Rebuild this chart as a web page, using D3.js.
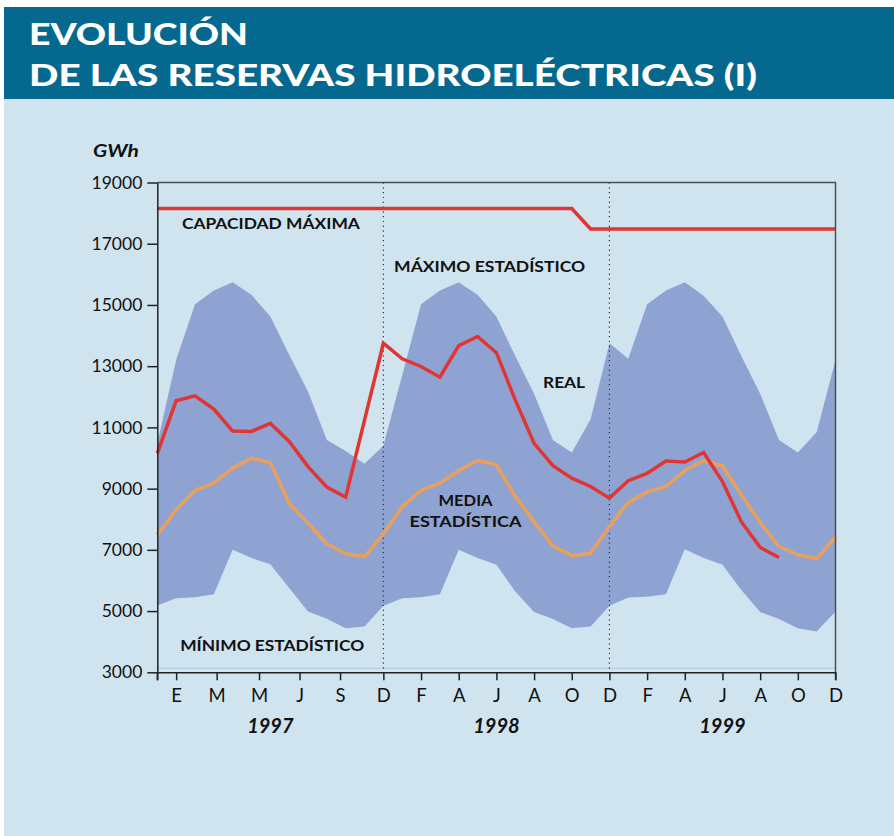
<!DOCTYPE html>
<html>
<head>
<meta charset="utf-8">
<script src="https://cdn.jsdelivr.net/npm/d3@7"></script>
<style>
  body { margin: 0; background: #fff; }
  svg { display: block; font-family: Lato, "Open Sans", sans-serif; }
</style>
</head>
<body>
<div id="chart"></div>
<script>
// months counted from December 1996 (index 0) to December 1999 (index 36)
const maxEstadistico = [
  10480, 13200, 15020, 15470, 15740, 15330, 14620, 13370, 12170, 10590, 10230, 9810,
  10400, 12700, 15020, 15470, 15740, 15330, 14620, 13330, 12100, 10590, 10180, 11270,
  13750, 13240, 15020, 15470, 15740, 15300, 14620, 13330, 12100, 10590, 10180, 10840,
  13200
];
const minEstadistico = [
  5180, 5420, 5450, 5550, 7000, 6730, 6530, 5750, 4990, 4750, 4440, 4500,
  5170, 5420, 5450, 5550, 7000, 6730, 6510, 5640, 4970, 4740, 4440, 4500,
  5170, 5440, 5470, 5550, 7020, 6730, 6510, 5690, 4970, 4740, 4440, 4330,
  4990
];
const mediaEstadistica = [
  7490, 8310, 8940, 9180, 9670, 9990, 9850, 8520, 7870, 7200, 6870, 6780,
  7520, 8410, 8940, 9180, 9590, 9920, 9780, 8740, 7920, 7130, 6810, 6890,
  7770, 8550, 8900, 9070, 9590, 9920, 9740, 8800, 7890, 7110, 6840, 6710,
  7420
];
const real = [
  10150, 11870, 12030, 11600, 10880, 10870, 11130, 10540, 9720, 9050, 8720, 11240,
  13750, 13240, 12990, 12640, 13670, 13970, 13440, 11900, 10480, 9750, 9340, 9070,
  8690, 9260, 9500, 9900, 9870, 10180, 9230, 7920, 7080, 6750
];
const capacidadMaxima = [
  18150, 18150, 18150, 18150, 18150, 18150, 18150, 18150, 18150, 18150, 18150, 18150,
  18150, 18150, 18150, 18150, 18150, 18150, 18150, 18150, 18150, 18150, 18150, 17480,
  17480, 17480, 17480, 17480, 17480, 17480, 17480, 17480, 17480, 17480, 17480, 17480,
  17480
];

const monthTicks = [0, 1, 3.15, 5.4, 7.55, 9.7, 12, 14, 16, 18, 20, 22, 24, 26, 28, 30, 32, 34, 36];
const monthLabels = ["", "E", "M", "M", "J", "S", "D", "F", "A", "J", "A", "O", "D", "F", "A", "J", "A", "O", "D"];
const years = ["1997", "1998", "1999"];
const yearCenters = [6, 18, 30];
const yearBreaks = [12, 24];
const yTicks = [3000, 5000, 7000, 9000, 11000, 13000, 15000, 17000, 19000];

const labels = [
  { text: "CAPACIDAD MÁXIMA", m: 6.03, v: 17470, w: 178 },
  { text: "MÁXIMO ESTADÍSTICO", m: 17.64, v: 16090, w: 191 },
  { text: "REAL", m: 21.59, v: 12280, w: 42 },
  { text: "MEDIA", m: 16.36, v: 8440, w: 54 },
  { text: "ESTADÍSTICA", m: 16.36, v: 7740, w: 112 },
  { text: "MÍNIMO ESTADÍSTICO", m: 6.1, v: 3680, w: 184 }
];

const width = 894, height = 836;
const colors = { bar: "#05688e", bg: "#d0e4ef", band: "#8fa3d3", red: "#e03533", orange: "#e9a05c" };

const svg = d3.select("#chart").append("svg")
  .attr("width", width)
  .attr("height", height);

// header + panel
svg.append("rect").attr("x", 4).attr("y", 7).attr("width", width - 4).attr("height", 92).attr("fill", colors.bar);
svg.append("rect").attr("x", 4).attr("y", 99).attr("width", width - 4).attr("height", height - 99).attr("fill", colors.bg);

const title = svg.append("g").attr("fill", "#fff").attr("font-weight", 900).attr("font-size", 30.5);
title.append("text").attr("x", 29).attr("y", 44.5)
  .attr("textLength", 219).attr("lengthAdjust", "spacingAndGlyphs").text("EVOLUCIÓN");
title.append("text").attr("x", 29).attr("y", 86)
  .attr("textLength", 728).attr("lengthAdjust", "spacingAndGlyphs").text("DE LAS RESERVAS HIDROELÉCTRICAS (I)");

const x = d3.scaleLinear().domain([0, 36]).range([157.3, 835.5]);
const y = d3.scaleLinear().domain([3000, 19000]).range([672.3, 182.5]);

// statistical band
const band = d3.area()
  .x((d, i) => x(i))
  .y0((d, i) => y(minEstadistico[i]))
  .y1(d => y(d));

svg.append("path")
  .datum(maxEstadistico)
  .attr("d", band)
  .attr("fill", colors.band);

// faint bottom edge of plot area
svg.append("line")
  .attr("x1", x(0)).attr("x2", x(36))
  .attr("y1", 668.3).attr("y2", 668.3)
  .attr("stroke", "#b3c5df").attr("stroke-width", 1);

// year separators
svg.selectAll(".sep")
  .data(yearBreaks)
  .join("line")
  .attr("class", "sep")
  .attr("x1", d => x(d)).attr("x2", d => x(d))
  .attr("y1", y(19000)).attr("y2", y(3000))
  .attr("stroke", "#333")
  .attr("stroke-width", 1.2)
  .attr("stroke-dasharray", "1.2,3.6");

const line = d3.line().x((d, i) => x(i)).y(d => y(d));

svg.append("path").datum(capacidadMaxima).attr("d", line)
  .attr("fill", "none").attr("stroke", colors.red).attr("stroke-width", 3.5);

svg.append("path").datum(mediaEstadistica).attr("d", line)
  .attr("fill", "none").attr("stroke", colors.orange).attr("stroke-width", 3.5)
  .attr("stroke-linejoin", "round");

svg.append("path").datum(real).attr("d", line)
  .attr("fill", "none").attr("stroke", colors.red).attr("stroke-width", 3.5)
  .attr("stroke-linejoin", "miter");

// frame: top and right
svg.append("path")
  .attr("d", `M${x(0)},${y(19000)}H${x(36)}V${y(3000) + 8}`)
  .attr("fill", "none").attr("stroke", "#4a4f55").attr("stroke-width", 1.5);

// axes
const yAxis = svg.append("g")
  .attr("transform", `translate(${x(0)},0)`)
  .call(d3.axisLeft(y).tickValues(yTicks).tickFormat(d3.format("d")).tickSize(10).tickSizeOuter(0).tickPadding(5));

const xAxis = svg.append("g")
  .attr("transform", `translate(0,${y(3000)})`)
  .call(d3.axisBottom(x).tickValues(monthTicks).tickFormat((d, i) => monthLabels[i]).tickSize(8).tickSizeOuter(0).tickPadding(9));

[yAxis, xAxis].forEach(g => {
  g.select(".domain").attr("stroke", "#222").attr("stroke-width", 1.5);
  g.selectAll(".tick line").attr("stroke", "#222").attr("stroke-width", 1.5);
  g.selectAll("text").attr("fill", "#111").attr("font-family", "Lato, sans-serif");
});
yAxis.selectAll("text").attr("font-size", 17.5);
xAxis.selectAll("text").attr("font-size", 18.5);

// left axis continues down to the first month tick
svg.append("line")
  .attr("x1", x(0)).attr("x2", x(0))
  .attr("y1", y(3000)).attr("y2", y(3000) + 8)
  .attr("stroke", "#222").attr("stroke-width", 1.5);

svg.selectAll(".year")
  .data(years)
  .join("text")
  .attr("class", "year")
  .attr("x", (d, i) => x(yearCenters[i]))
  .attr("y", 733)
  .attr("text-anchor", "middle")
  .attr("font-size", 20)
  .attr("font-weight", 700)
  .attr("font-style", "italic")
  .attr("fill", "#111")
  .text(d => d);

svg.append("text")
  .attr("x", 93).attr("y", 156.5)
  .attr("font-size", 16.5).attr("font-weight", 700).attr("font-style", "italic")
  .attr("fill", "#111")
  .attr("textLength", 46).attr("lengthAdjust", "spacingAndGlyphs")
  .text("GWh");

// series labels
svg.selectAll(".lbl")
  .data(labels)
  .join("text")
  .attr("class", "lbl")
  .attr("x", d => x(d.m))
  .attr("y", d => y(d.v))
  .attr("text-anchor", "middle")
  .attr("font-size", 15)
  .attr("font-weight", 700)
  .attr("fill", "#111")
  .attr("textLength", d => d.w)
  .attr("lengthAdjust", "spacingAndGlyphs")
  .text(d => d.text);
</script>
</body>
</html>
